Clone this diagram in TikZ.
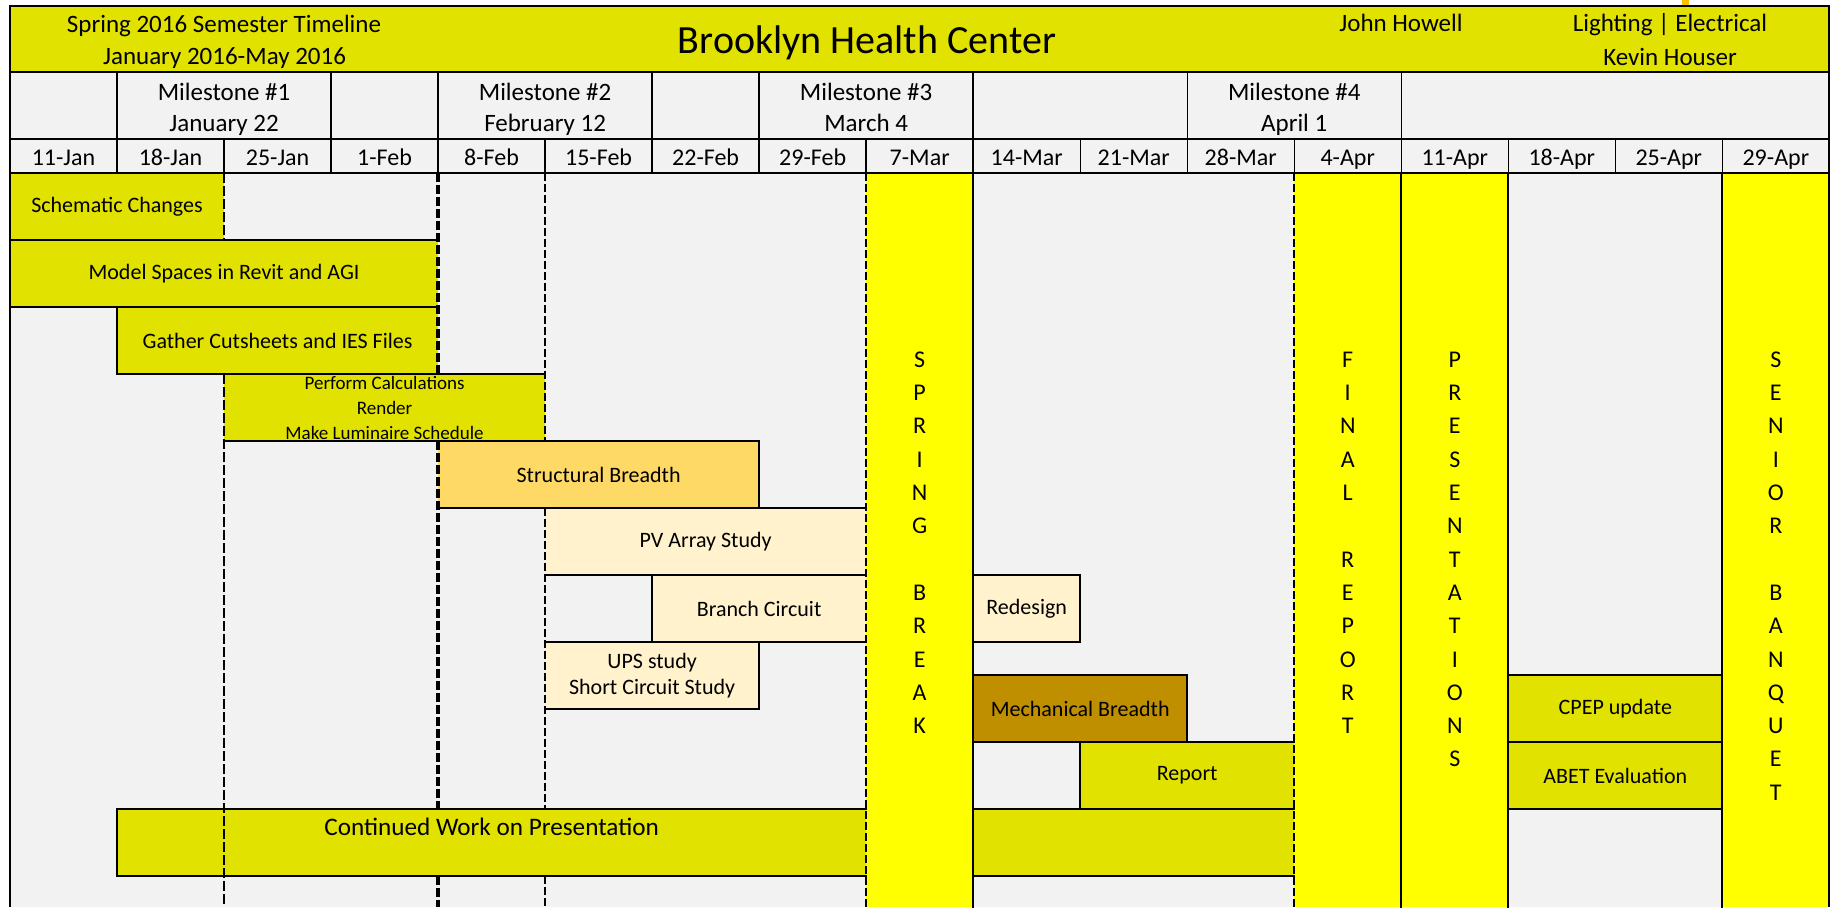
\documentclass[tikz,border=0pt]{standalone}
\usepackage{fontspec}
\setmainfont{Carlito}
\definecolor{headcol}{RGB}{226, 226, 0}
\definecolor{cellcol}{RGB}{242, 242, 242}
\definecolor{breakcol}{RGB}{255, 255, 0}
\definecolor{structcol}{RGB}{255, 217, 102}
\definecolor{elcol}{RGB}{255, 242, 204}
\definecolor{mechcol}{RGB}{191, 143, 0}
\definecolor{markcol}{RGB}{255, 192, 0}
\newcommand{\colx}[1]{(10+107.02*(#1))}
\tikzset{
  barline/.style={line width=1pt, line cap=rect},
  hrule/.style={line width=1.1pt},
  divider/.style={line width=0.7pt},
  thindash/.style={line width=0.7pt, dash pattern=on 5pt off 1.5pt},
  middash/.style={line width=1pt, dash pattern=on 4pt off 1.5pt},
  thickdash/.style={line width=1.6pt, dash pattern=on 4.5pt off 1.5pt},
  head/.style={anchor=base, inner sep=0pt, font=\fontsize{12.5}{15}\selectfont},
  datelabel/.style={anchor=base, inner sep=0pt, font=\fontsize{12}{14}\selectfont},
  letter/.style={anchor=base, inner sep=0pt, font=\fontsize{12}{14}\selectfont},
  task/.style={inner sep=0pt, outer sep=0pt, align=center, fill=headcol,
               font=\fontsize{11}{13}\selectfont,
               append after command={
                 (\tikzlastnode.north west) edge[barline] (\tikzlastnode.north east)
                 (\tikzlastnode.south west) edge[barline] (\tikzlastnode.south east)}},
  lside/.style={append after command={
                 (\tikzlastnode.north west) edge[barline] (\tikzlastnode.south west)}},
  rside/.style={append after command={
                 (\tikzlastnode.north east) edge[barline] (\tikzlastnode.south east)}},
  cells/.style n args={4}{minimum width={(#2-#1)*53.51pt},
                          minimum height={(#4-#3)*0.5pt},
                          at={({\colx{(#1+#2)/2}},{(#3+#4)/2})}},
}
\begin{document}
\begin{tikzpicture}[x=0.5pt, y=-0.5pt]
  \useasboundingbox (0,0) rectangle (1838,907);
  \fill[markcol] (1682,0) rectangle (1689,7);
  \fill[headcol] (10,6.2) rectangle (1829.3,72.3);
  \fill[cellcol] (10,72.3) rectangle (1829.3,907);
  \foreach \c in {8,12,13,16}
    \fill[breakcol] ({\colx{\c}},173.3) rectangle ({\colx{\c+1}},907);

  \node[task, cells={0}{2}{173.3}{240}] (schem) {Schematic Changes};
  \node[task, cells={0}{4}{240}{307}] (model) {Model Spaces in Revit and AGI};
  \node[task, lside, cells={1}{4}{307}{374}] (cuts) {Gather Cutsheets and IES Files};
  \node[task, cells={2}{5}{374}{441}, font=\fontsize{9.5}{12.5}\selectfont] (calc)
    {Perform Calculations\\Render\\Make Luminaire Schedule};
  \node[task, rside, cells={4}{7}{441}{508}, fill=structcol] (struct) {Structural Breadth};
  \node[task, cells={5}{8}{508}{575}, fill=elcol] (pv) {PV Array Study};
  \node[task, lside, cells={6}{8}{575}{642}, fill=elcol] (branch) {Branch Circuit};
  \node[task, rside, cells={5}{7}{642}{709}, fill=elcol] (ups) {UPS study\\Short Circuit Study};
  \node[task, lside, cells={1}{8}{809}{876}] (pres1) {};
  \node[task, rside, cells={9}{10}{575}{642}, fill=elcol] (redesign) {Redesign};
  \node[task, rside, cells={9}{11}{675}{742}, fill=mechcol] (mech) {Mechanical Breadth};
  \node[task, lside, cells={10}{12}{742}{809}] (report) {Report};
  \node[task, cells={9}{12}{809}{876}] (pres2) {};
  \node[task, cells={14}{16}{675}{742}] (cpep) {CPEP update};
  \node[task, cells={14}{16}{742}{809}] (abet) {ABET Evaluation};
  \node[head, font=\fontsize{12.6}{15}\selectfont] (prestext) at ({\colx{4.5}},835)
    {Continued Work on Presentation};

  \draw[thindash] ({\colx{2}},173.3) -- ({\colx{2}},240) ({\colx{2}},374) -- ({\colx{2}},907);
  \draw[thickdash] ({\colx{4}},173.3) -- ({\colx{4}},374) ({\colx{4}},441) -- ({\colx{4}},809)
    ({\colx{4}},876) -- ({\colx{4}},907);
  \draw[middash] ({\colx{5}},173.3) -- ({\colx{5}},441) ({\colx{5}},508) -- ({\colx{5}},809)
    ({\colx{5}},876) -- ({\colx{5}},907);
  \foreach \c in {8,12}
    \draw[middash] ({\colx{\c}},173.3) -- ({\colx{\c}},907);
  \foreach \c in {9,13,14,16}
    \draw[barline] ({\colx{\c}},173.3) -- ({\colx{\c}},907);

  \foreach \c in {1,3,4,6,7,9,11,13}
    \draw[divider] ({\colx{\c}},72.3) -- ({\colx{\c}},139.3);
  \foreach \c in {1,...,16}
    \draw[divider] ({\colx{\c}},139.3) -- ({\colx{\c}},173.3);
  \foreach \y in {72.3,139.3,173.3}
    \draw[hrule] (10,\y) -- (1829.3,\y);
  \draw[hrule] (10,907) -- (10,6.2) -- (1829.3,6.2) -- (1829.3,907);

  \node[head] (term) at (224,32.3) {Spring 2016 Semester Timeline};
  \node[head] (termdates) at (224.5,64.5) {January 2016-May 2016};
  \node[head, font=\fontsize{20}{24}\selectfont] (title) at (867,53.3) {Brooklyn Health Center};
  \node[head] (student) at (1401,31.7) {John Howell};
  \node[head] (option) at (1670,31.7) {Lighting | Electrical};
  \node[head] (advisor) at (1670,65) {Kevin Houser};

  \foreach \c/\n/\d in {1/1/January 22, 4/2/February 12, 7/3/March 4, 11/4/April 1} {
    \node[head] (ms\n) at ({\colx{\c+1}},100) {Milestone \#\n};
    \node[head] (msday\n) at ({\colx{\c+1}},131.7) {\d};
  }
  \foreach \d [count=\k from 0] in {11-Jan,18-Jan,25-Jan,1-Feb,8-Feb,15-Feb,22-Feb,29-Feb,
      7-Mar,14-Mar,21-Mar,28-Mar,4-Apr,11-Apr,18-Apr,25-Apr,29-Apr}
    \node[datelabel] (wk\k) at ({\colx{\k+0.5}},165.7) {\d};

  \foreach \ch [count=\k from 0] in {S,P,R,I,N,G}
    \node[letter] (spring\k) at ({\colx{8.5}},{367.3+33.3*\k}) {\ch};
  \foreach \ch [count=\k from 7] in {B,R,E,A,K}
    \node[letter] (break\k) at ({\colx{8.5}},{367.3+33.3*\k}) {\ch};
  \foreach \ch [count=\k from 0] in {F,I,N,A,L}
    \node[letter] (final\k) at ({\colx{12.5}},{367.3+33.3*\k}) {\ch};
  \foreach \ch [count=\k from 6] in {R,E,P,O,R,T}
    \node[letter] (rep\k) at ({\colx{12.5}},{367.3+33.3*\k}) {\ch};
  \foreach \ch [count=\k from 0] in {P,R,E,S,E,N,T,A,T,I,O,N,S}
    \node[letter] (talk\k) at ({\colx{13.5}},{367.3+33.3*\k}) {\ch};
  \foreach \ch [count=\k from 0] in {S,E,N,I,O,R}
    \node[letter] (senior\k) at ({\colx{16.5}},{367.3+33.3*\k}) {\ch};
  \foreach \ch [count=\k from 7] in {B,A,N,Q,U,E,T}
    \node[letter] (banquet\k) at ({\colx{16.5}},{367.3+33.3*\k}) {\ch};
\end{tikzpicture}
\end{document}
